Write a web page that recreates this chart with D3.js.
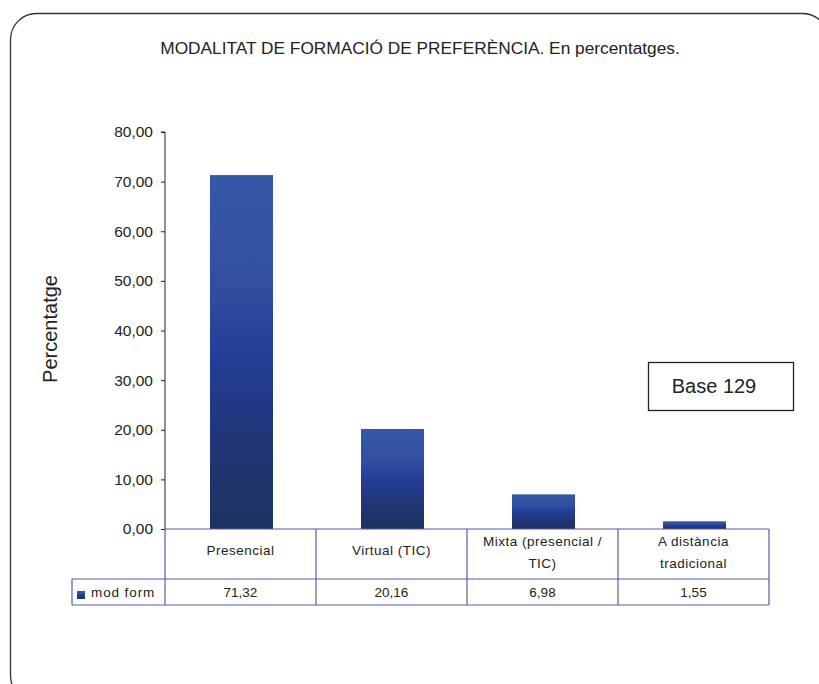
<!DOCTYPE html>
<html><head><meta charset="utf-8">
<script src="https://cdn.jsdelivr.net/npm/d3@7"></script>
<style>body{margin:0;background:#fff}svg{display:block}</style>
</head><body>
<script>
const categories = [["Presencial"], ["Virtual (TIC)"], ["Mixta (presencial /", "TIC)"], ["A distància", "tradicional"]];
const values = [71.32, 20.16, 6.98, 1.55];
const valueLabels = ["71,32", "20,16", "6,98", "1,55"];
const yTicks = [0, 10, 20, 30, 40, 50, 60, 70, 80];
const seriesName = "mod form";
const title = "MODALITAT DE FORMACIÓ DE PREFERÈNCIA. En percentatges.";
const yLabel = "Percentatge";
const note = "Base 129";

(function () {
const W = 819, H = 684;
const svg = d3.select("body").append("svg").attr("width", W).attr("height", H);
const font = "'Liberation Sans', Arial, sans-serif";

// rounded frame
svg.append("rect").attr("x", 10.5).attr("y", 13.5).attr("width", 818).attr("height", 688)
  .attr("rx", 26).attr("ry", 26).attr("fill", "none").attr("stroke", "#333").attr("stroke-width", 1.3);

const defs = svg.append("defs");
const g = defs.append("linearGradient").attr("id", "barG").attr("x1", 0).attr("y1", 0).attr("x2", 0).attr("y2", 1);
g.append("stop").attr("offset", "0%").attr("stop-color", "#3657a6");
g.append("stop").attr("offset", "30%").attr("stop-color", "#3250a2");
g.append("stop").attr("offset", "52%").attr("stop-color", "#233d96");
g.append("stop").attr("offset", "75%").attr("stop-color", "#213576");
g.append("stop").attr("offset", "100%").attr("stop-color", "#1c3460");

svg.append("text").attr("x", 420).attr("y", 54).attr("text-anchor", "middle")
  .attr("font-family", font).attr("font-size", 17.3).attr("fill", "#222").text(title);

const pLeft = 165, pRight = 769, pTop = 132, pBottom = 529;
const x = d3.scaleBand().domain(d3.range(values.length)).range([pLeft, pRight]).paddingInner(0).paddingOuter(0);
const y = d3.scaleLinear().domain([0, 80]).range([pBottom, pTop]);

// y axis
const yAxis = d3.axisLeft(y).tickValues(yTicks).tickSize(4).tickPadding(8)
  .tickFormat(d => d3.format(".2f")(d).replace(".", ","));
const ya = svg.append("g").attr("transform", `translate(${pLeft},0)`).call(yAxis);
ya.select(".domain").attr("stroke", "#222").attr("d", `M-4,${pTop}H0V${pBottom}`);
ya.selectAll(".tick line").attr("stroke", "#222");
ya.selectAll("text").attr("font-family", font).attr("font-size", 15.5).attr("fill", "#222");

svg.append("text").attr("transform", `translate(57,${329}) rotate(-90)`)
  .attr("text-anchor", "middle").attr("font-family", font).attr("font-size", 20).attr("fill", "#222").text(yLabel);

// bars
const bw = 63;
svg.selectAll("rect.bar").data(values).enter().append("rect").attr("class", "bar")
  .attr("x", (d, i) => x(i) + x.bandwidth() / 2 - bw / 2 + 1)
  .attr("width", bw)
  .attr("y", d => y(d)).attr("height", d => pBottom - y(d))
  .attr("fill", "url(#barG)");

// data table
const lineC = "#5a5aa8";
const rowMid = 579, rowBot = 605, legLeft = 72;
const tbl = svg.append("g").attr("stroke", lineC).attr("stroke-width", 1.2).attr("fill", "none");
tbl.append("line").attr("x1", pLeft).attr("x2", pRight).attr("y1", pBottom).attr("y2", pBottom);
tbl.append("line").attr("x1", legLeft).attr("x2", pRight).attr("y1", rowMid).attr("y2", rowMid);
tbl.append("line").attr("x1", legLeft).attr("x2", pRight).attr("y1", rowBot).attr("y2", rowBot);
tbl.append("line").attr("x1", legLeft).attr("x2", legLeft).attr("y1", rowMid).attr("y2", rowBot);
d3.range(values.length + 1).forEach(i => {
  const xx = i < values.length ? x(i) : pRight;
  tbl.append("line").attr("x1", xx).attr("x2", xx).attr("y1", pBottom).attr("y2", rowBot);
});

categories.forEach((lines, i) => {
  const cx = x(i) + x.bandwidth() / 2;
  const t = svg.append("text").attr("text-anchor", "middle").attr("font-family", font)
    .attr("font-size", 13.5).attr("fill", "#222").attr("letter-spacing", 0.5);
  const y0 = lines.length === 1 ? 555 : 546;
  lines.forEach((l, k) => t.append("tspan").attr("x", cx).attr("y", y0 + k * 22).text(l));
  svg.append("text").attr("x", cx).attr("y", 597).attr("text-anchor", "middle").attr("font-family", font)
    .attr("font-size", 13.5).attr("fill", "#222").text(valueLabels[i]);
});

svg.append("rect").attr("x", 77).attr("y", 591).attr("width", 8).attr("height", 8).attr("fill", "url(#barG)");
svg.append("text").attr("x", 91).attr("y", 597).attr("font-family", font).attr("font-size", 13.5)
  .attr("letter-spacing", 0.9).attr("fill", "#222").text(seriesName);

// note box
svg.append("rect").attr("x", 648.5).attr("y", 362.5).attr("width", 145).attr("height", 48)
  .attr("fill", "#fff").attr("stroke", "#222").attr("stroke-width", 1.3);
svg.append("text").attr("x", 714).attr("y", 393).attr("text-anchor", "middle").attr("font-family", font)
  .attr("font-size", 20).attr("fill", "#222").text(note);
})();
</script>
</body></html>
